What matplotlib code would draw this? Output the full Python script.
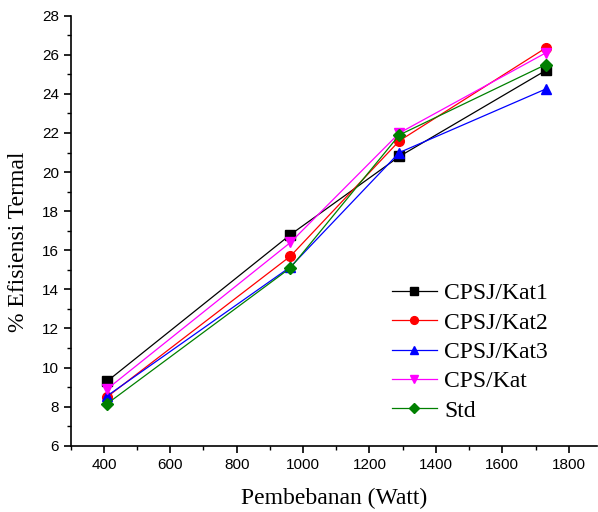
import matplotlib
matplotlib.use("Agg")
import matplotlib.pyplot as plt
from matplotlib.ticker import MultipleLocator

x = [410, 962, 1290, 1731]
kat1 = [9.3, 16.8, 20.8, 25.2]
kat2 = [8.5, 15.7, 21.6, 26.35]
kat3 = [8.55, 15.15, 21.0, 24.25]
cps = [8.9, 16.4, 22.0, 26.1]
std = [8.15, 15.1, 21.9, 25.5]

labels = ["CPSJ/Kat1", "CPSJ/Kat2", "CPSJ/Kat3", "CPS/Kat", "Std"]
colors = ["black", "red", "blue", "magenta", "green"]
markers = ["s", "o", "^", "v", "D"]
series = [kat1, kat2, kat3, cps, std]

fig = plt.figure(figsize=(5.98, 5.12), dpi=100)
ax = fig.add_axes([0.1182, 0.1295, 0.88, 0.8398])

for y, lab, c, m in zip(series, labels, colors, markers):
    ms = 6.5 if m == "D" else 7
    ax.plot(x, y, color=c, marker=m, markersize=ms, linewidth=0.9, label=lab,
            markeredgecolor=c, markerfacecolor=c)

ax.set_xlim(300, 1885)
ax.set_ylim(6, 28)
ax.xaxis.set_major_locator(MultipleLocator(200))
ax.xaxis.set_minor_locator(MultipleLocator(100))
ax.yaxis.set_major_locator(MultipleLocator(2))
ax.yaxis.set_minor_locator(MultipleLocator(1))
for s in ["top", "right"]:
    ax.spines[s].set_visible(False)
for s in ["left", "bottom"]:
    ax.spines[s].set_linewidth(1.2)
ax.tick_params(which="major", direction="out", length=5, width=1.2,
               labelsize=11)
ax.tick_params(which="minor", direction="out", length=3, width=1.0)
for t in ax.get_xticklabels() + ax.get_yticklabels():
    t.set_fontfamily("Liberation Sans")

ax.set_xlabel("Pembebanan (Watt)", fontfamily="Liberation Serif", fontsize=17, labelpad=12)
ax.set_ylabel("% Efisiensi Termal", fontfamily="Liberation Serif", fontsize=17)
ax.yaxis.set_label_coords(-0.079, 0.474)

leg = ax.legend(loc="upper left", bbox_to_anchor=(0.6105, 0.379), frameon=False,
                prop={"family": "Liberation Serif", "size": 17},
                markerscale=0.8, handlelength=1.9, handletextpad=0.3,
                labelspacing=0.33, borderpad=0, borderaxespad=0)

fig.savefig("out.png", dpi=100)
